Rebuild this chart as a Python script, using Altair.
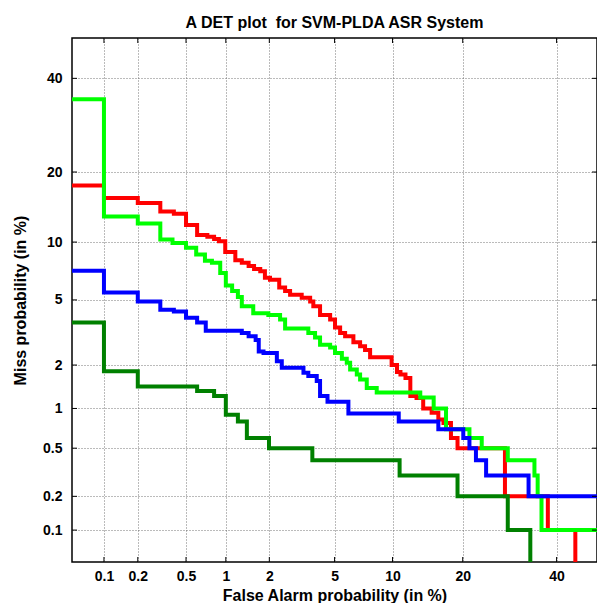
import altair as alt
import pandas as pd
from statistics import NormalDist

# DET curves: false alarm (%) where each miss level (%) begins, read left to right
RED_FA = [0.05, 0.1, 0.2, 0.31, 0.40, 0.5, 0.61, 0.73, 0.82, 0.89, 0.99, 1.17, 1.3, 1.45, 1.58,
          1.74, 1.87, 2.02, 2.32, 2.53, 2.72, 3.21, 3.61, 3.77, 4.13, 4.72, 5.03, 5.37, 5.72, 6.34,
          6.88, 7.3, 7.75, 9.9, 10.5, 10.9, 11.5, 12.1, 12.9, 13.8, 15.0, 16.0, 16.8, 18.0, 19.1,
          28.2, 37.9, 44.6]
RED_MISS = [17.7, 15.75, 15.0, 13.8, 13.5, 12.0, 10.8, 10.6, 10.35, 10.1, 8.95, 8.15, 7.9, 7.6, 7.35,
            7.15, 6.6, 6.45, 5.85, 5.6, 5.35, 5.15, 4.9, 4.6, 4.1, 3.85, 3.45, 3.2, 3.05, 2.8,
            2.65, 2.5, 2.25, 2.0, 1.8, 1.73, 1.64, 1.23, 1.19, 1.0, 0.93, 0.83, 0.78, 0.6, 0.5,
            0.2, 0.1, 0.01]

GREEN_FA = [0.05, 0.1, 0.2, 0.31, 0.39, 0.5, 0.6, 0.7, 0.79, 0.91, 1.0, 1.11, 1.22, 1.30, 1.56,
            1.97, 2.35, 2.53, 3.52, 3.86, 4.13, 4.72, 5.03, 5.49, 5.84, 6.09, 6.61, 6.88, 7.45, 8.37,
            13.4, 15.3, 17.2, 21.2, 23.5, 28.8, 34.75, 35.5, 36.4, 50]
GREEN_MISS = [35, 13.1, 12.2, 10.3, 9.9, 9.4, 8.7, 8.1, 7.9, 7.0, 6.0, 5.6, 5.2, 4.6, 4.2,
              4.1, 3.85, 3.4, 3.2, 3.0, 2.7, 2.6, 2.4, 2.2, 2.07, 1.87, 1.73, 1.6, 1.4, 1.3,
              1.2, 1.0, 0.7, 0.6, 0.5, 0.4, 0.3, 0.2, 0.1, 0.1]

BLUE_FA = [0.05, 0.1, 0.2, 0.31, 0.40, 0.5, 0.61, 0.71, 1.3, 1.45, 1.62, 1.70, 1.83, 2.24, 2.41,
           3.29, 3.52, 3.95, 4.13, 4.56, 5.96, 10.7, 16.0, 20.1, 21.2, 22.4, 24.35, 33.4, 50]
BLUE_MISS = [7.2, 5.5, 4.9, 4.4, 4.3, 3.95, 3.7, 3.3, 3.2, 3.05, 2.9, 2.45, 2.4, 2.12, 1.92,
             1.78, 1.69, 1.56, 1.23, 1.12, 0.92, 0.8, 0.7, 0.6, 0.5, 0.4, 0.3, 0.2, 0.2]

DKGREEN_FA = [0.05, 0.1, 0.2, 0.61, 0.82, 1.0, 1.22, 1.41, 1.99, 3.72, 10.8, 19.1, 28.8, 33.8]
DKGREEN_MISS = [3.7, 1.82, 1.43, 1.33, 1.23, 0.9, 0.8, 0.6, 0.5, 0.4, 0.3, 0.2, 0.1, 0.01]

TICKS = [0.1, 0.2, 0.5, 1, 2, 5, 10, 20, 40]
TICK_LABELS = ["0.1", "0.2", "0.5", "1", "2", "5", "10", "20", "40"]

AXIS_MIN, AXIS_MAX = 0.05, 50  # percent

_nd = NormalDist()


def probit(pct):
    return _nd.inv_cdf(pct / 100.0)


LO, HI = probit(AXIS_MIN), probit(AXIS_MAX)
tick_pos = [probit(t) for t in TICKS]

# label lookup on the probit scale (thresholds halfway between ticks)
expr = f"'{TICK_LABELS[-1]}'"
for i in range(len(TICKS) - 2, -1, -1):
    mid = (tick_pos[i] + tick_pos[i + 1]) / 2
    expr = f"datum.value < {mid:.5f} ? '{TICK_LABELS[i]}' : ({expr})"

W, H = 525, 524
FONT = "Liberation Sans"

xscale = alt.Scale(domain=[LO, HI], nice=False, zero=False)
yscale = alt.Scale(domain=[LO, HI], nice=False, zero=False)

xaxis = alt.Axis(values=tick_pos, labelExpr=expr, title="False Alarm probability (in %)",
                 ticks=False, domain=False, grid=True, labelPadding=7,
                 titleY=38.5, titleBaseline="alphabetic")
yaxis = alt.Axis(values=tick_pos, labelExpr=expr, title="Miss probability (in %)",
                 ticks=False, domain=False, grid=True, labelPadding=10,
                 titleX=-47, titleBaseline="alphabetic")


def curve(fa, miss, color):
    df = pd.DataFrame({"fa": fa, "miss": miss})
    df["xp"] = df["fa"].map(probit)
    df["yp"] = df["miss"].map(probit)
    df["i"] = range(len(df))
    return alt.Chart(df).mark_line(
        interpolate="step-after", clip=True, strokeWidth=4, color=color, strokeJoin="miter"
    ).encode(
        x=alt.X("xp:Q", scale=xscale, axis=xaxis),
        y=alt.Y("yp:Q", scale=yscale, axis=yaxis),
        order=alt.Order("i:Q"),
    )


ticks_df = pd.DataFrame({"xp": tick_pos, "yp": tick_pos})
tick_base = alt.Chart(ticks_df).mark_rule(color="black", strokeWidth=1)
tick_layers = [
    tick_base.encode(x=alt.X("xp:Q", scale=xscale, axis=xaxis), y=alt.value(H), y2=alt.value(H - 5)),
    tick_base.encode(x=alt.X("xp:Q", scale=xscale, axis=xaxis), y=alt.value(0), y2=alt.value(5)),
    tick_base.encode(y=alt.Y("yp:Q", scale=yscale, axis=yaxis), x=alt.value(0), x2=alt.value(5)),
    tick_base.encode(y=alt.Y("yp:Q", scale=yscale, axis=yaxis), x=alt.value(W), x2=alt.value(W - 5)),
]

chart = alt.layer(
    curve(RED_FA, RED_MISS, "#ff0000"),
    curve(GREEN_FA, GREEN_MISS, "#00ff00"),
    curve(BLUE_FA, BLUE_MISS, "#0000ff"),
    curve(DKGREEN_FA, DKGREEN_MISS, "#008000"),
    *tick_layers,
).properties(
    width=W,
    height=H,
    title=alt.TitleParams(
        text="A DET plot\u00a0 for SVM-PLDA ASR System",
        font=FONT, fontSize=16, fontWeight="bold", color="black",
        anchor="middle", frame="group", baseline="alphabetic", offset=11, dy=17,
    ),
    autosize=alt.AutoSizeParams(type="none"),
    padding={"left": 72, "top": 38, "right": 0, "bottom": 41},
    background="white",
).configure_axis(
    labelFont=FONT, labelFontSize=14, labelFontWeight="bold", labelColor="black",
    titleFont=FONT, titleFontSize=16, titleFontWeight="bold", titleColor="black",
    gridColor="#555555", gridDash=[1, 2], gridWidth=1, gridOpacity=0.8,
).configure_view(
    stroke="black", strokeWidth=1.5,
)

chart.save("out.html", embed_options={"renderer": "svg", "actions": False})
